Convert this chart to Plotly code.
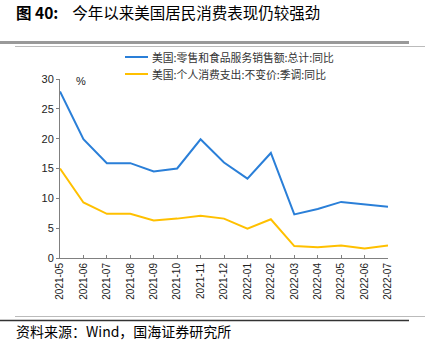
import plotly.graph_objects as go

months = ["2021-05", "2021-06", "2021-07", "2021-08", "2021-09", "2021-10", "2021-11",
          "2021-12", "2022-01", "2022-02", "2022-03", "2022-04", "2022-05", "2022-06", "2022-07"]
retail_yoy = [27.9, 19.9, 15.9, 15.9, 14.5, 15.0, 19.9, 16.0, 13.3, 17.6, 7.3, 8.2, 9.4, 9.0, 8.6]
pce_yoy = [15.0, 9.3, 7.4, 7.4, 6.3, 6.6, 7.1, 6.6, 4.9, 6.5, 2.0, 1.8, 2.1, 1.6, 2.1]

name_retail = "美国:零售和食品服务销售额:总计:同比"
name_pce = "美国:个人消费支出:不变价:季调:同比"
color_retail = "#2a7fd8"
color_pce = "#ffc000"

L, R, T, B = 60, 388, 79, 258
W, H = R - L, B - T


def px(x):
    return (x - L) / W


def py(y):
    return (B - y) / H


fig = go.Figure()
fig.add_trace(go.Scatter(x=months, y=retail_yoy, mode="lines", name=name_retail,
                         line=dict(color=color_retail, width=2)))
fig.add_trace(go.Scatter(x=months, y=pce_yoy, mode="lines", name=name_pce,
                         line=dict(color=color_pce, width=2)))

cjk = "Noto Sans CJK SC"
fig.update_layout(
    width=425, height=362,
    margin=dict(l=L, r=425 - R, t=T, b=362 - B),
    paper_bgcolor="white", plot_bgcolor="white",
    showlegend=False,
    xaxis=dict(type="category", range=[0, 14], showgrid=False, showline=True,
               linecolor="#808080", linewidth=1, ticks="inside", ticklen=3,
               tickcolor="#808080", tickangle=-90, automargin=False,
               tickfont=dict(family="Liberation Sans, Arial", size=10, color="#222222")),
    yaxis=dict(range=[0, 30], dtick=5, showgrid=False, showline=True,
               linecolor="#808080", linewidth=1, ticks="outside", ticklen=3,
               tickcolor="#808080", zeroline=False, automargin=False,
               tickfont=dict(family="Liberation Sans, Arial", size=11, color="#222222")),
    font=dict(family=cjk),
)

# manual legend
for name, color, yy in [(name_retail, color_retail, 57), (name_pce, color_pce, 74)]:
    fig.add_shape(type="line", xref="paper", yref="paper", x0=px(125), x1=px(148),
                  y0=py(yy), y1=py(yy), line=dict(color=color, width=2))
    fig.add_annotation(xref="paper", yref="paper", x=px(150), y=py(yy), text=name,
                       showarrow=False, xanchor="left", yanchor="middle",
                       font=dict(family=cjk, size=10.8, color="#333333"))

fig.add_annotation(xref="paper", yref="paper", x=px(74), y=py(81), text="%", showarrow=False,
                   xanchor="left", yanchor="middle",
                   font=dict(family="Liberation Sans, Arial", size=11, color="#222222"))

fig.add_annotation(xref="paper", yref="paper", x=px(14), y=py(11.5),
                   text="<b>图 40:</b>    今年以来美国居民消费表现仍较强劲", showarrow=False,
                   xanchor="left", yanchor="middle",
                   font=dict(family=cjk, size=15.5, color="#000000"))

fig.add_annotation(xref="paper", yref="paper", x=px(14), y=py(331),
                   text="资料来源：Wind，国海证券研究所", showarrow=False,
                   xanchor="left", yanchor="middle",
                   font=dict(family=cjk, size=14, color="#000000"))

# decorative rules
fig.add_shape(type="line", xref="paper", yref="paper", x0=px(0), x1=px(409),
              y0=py(42.5), y1=py(42.5), line=dict(color="#999999", width=3))
fig.add_shape(type="line", xref="paper", yref="paper", x0=px(15), x1=px(425),
              y0=py(46.5), y1=py(46.5), line=dict(color="#bbbbbb", width=1))
fig.add_shape(type="line", xref="paper", yref="paper", x0=px(15), x1=px(425),
              y0=py(316.5), y1=py(316.5), line=dict(color="#bbbbbb", width=1))
fig.add_shape(type="line", xref="paper", yref="paper", x0=px(0), x1=px(409),
              y0=py(320.5), y1=py(320.5), line=dict(color="#333333", width=1.5))

fig.write_html("out.html", config={"displayModeBar": False},
               post_script="document.body.style.margin='0';")
